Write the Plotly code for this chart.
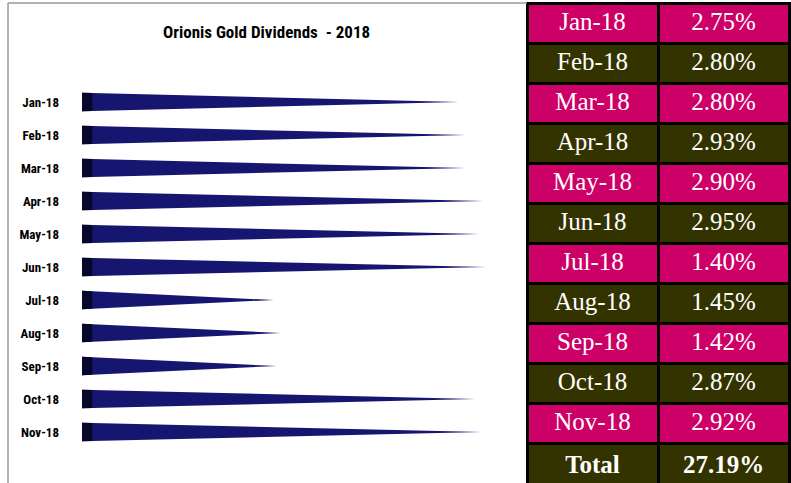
import plotly.graph_objects as go

months = ["Jan-18", "Feb-18", "Mar-18", "Apr-18", "May-18", "Jun-18",
          "Jul-18", "Aug-18", "Sep-18", "Oct-18", "Nov-18"]
dividends = [2.75, 2.80, 2.80, 2.93, 2.90, 2.95, 1.40, 1.45, 1.42, 2.87, 2.92]
title_text = "Orionis Gold Dividends  - 2018"
total_label = "Total"

W, H = 791, 483
LEFT_W = 527
PLOT_L = 64
BAR_COLOR = "#161670"
BAR_DARK = "#07072c"
MAGENTA = "#cc0066"
OLIVE = "#333300"

fig = go.Figure()

half = 0.28      # half thickness of the wedge in category units
dark = 0.075     # width of dark left section in value units
for i, (m, v) in enumerate(zip(months, dividends)):
    fig.add_trace(go.Scatter(
        x=[0, v, 0, 0], y=[i - half, i, i + half, i - half],
        fill="toself", fillcolor=BAR_COLOR, mode="lines",
        line=dict(width=0, color=BAR_COLOR), hoverinfo="skip", showlegend=False,
        xaxis="x", yaxis="y"))
    hd = half * (1 - dark / v)
    fig.add_trace(go.Scatter(
        x=[0, dark, dark, 0, 0], y=[i - half, i - hd, i + hd, i + half, i - half],
        fill="toself", fillcolor=BAR_DARK, mode="lines",
        line=dict(width=0, color=BAR_DARK), hoverinfo="skip", showlegend=False,
        xaxis="x", yaxis="y"))

rows_m = months + ["<b>" + total_label + "</b>"]
rows_v = ["%.2f%%" % v for v in dividends] + ["<b>%.2f%%</b>" % sum(dividends)]
fills = [MAGENTA if k % 2 == 0 else OLIVE for k in range(len(rows_m))]
tfont = dict(family="Liberation Serif, DejaVu Serif, serif", size=25, color="white")

fig.add_trace(go.Table(
    domain=dict(x=[LEFT_W / W, 789 / W], y=[0, 1 - 3 / H]),
    columnwidth=[1, 1],
    header=dict(values=[rows_m[0], rows_v[0]],
                fill_color=fills[0], line=dict(color="black", width=3),
                font=tfont, align="center", height=40),
    cells=dict(values=[rows_m[1:], rows_v[1:]],
               fill_color=[fills[1:], fills[1:]], line=dict(color="black", width=3),
               font=tfont, align="center", height=40),
))

x0px = 82
ppu = 137.0
fig.update_layout(
    width=W, height=H,
    margin=dict(l=0, r=0, t=0, b=0),
    paper_bgcolor="white", plot_bgcolor="white",
    xaxis=dict(domain=[PLOT_L / W, LEFT_W / W],
               range=[-(x0px - PLOT_L) / ppu, (LEFT_W - x0px) / ppu],
               visible=False, fixedrange=True),
    yaxis=dict(domain=[0, 1], range=[(H - 102) / 33.0, -102 / 33.0],
               tickvals=list(range(len(months))), ticktext=months,
               showgrid=False, zeroline=False, showline=False,
               ticks="", ticklabelstandoff=4,
               tickfont=dict(family="Liberation Sans Narrow, Roboto Condensed, Liberation Sans, sans-serif",
                             size=13, color="black", weight="bold"),
               automargin=False, fixedrange=True),
    shapes=[
        dict(type="line", xref="paper", yref="paper", x0=8 / W, x1=8 / W, y0=0, y1=1 - 3 / H,
             line=dict(color="#9a9a9a", width=1.5)),
        dict(type="line", xref="paper", yref="paper", x0=8 / W, x1=LEFT_W / W, y0=1 - 3 / H, y1=1 - 3 / H,
             line=dict(color="#9a9a9a", width=1.5)),
    ],
    annotations=[
        dict(text=title_text, xref="paper", yref="paper", x=266 / W, y=1 - 32 / H,
             showarrow=False, xanchor="center", yanchor="middle",
             font=dict(family="Liberation Sans Narrow, Roboto Condensed, Liberation Sans, sans-serif",
                       size=17, color="black", weight="bold")),
    ],
)

fig.write_html("out.html", config={"displayModeBar": False},
               post_script="document.body.style.margin='0';document.body.style.overflow='hidden';")
